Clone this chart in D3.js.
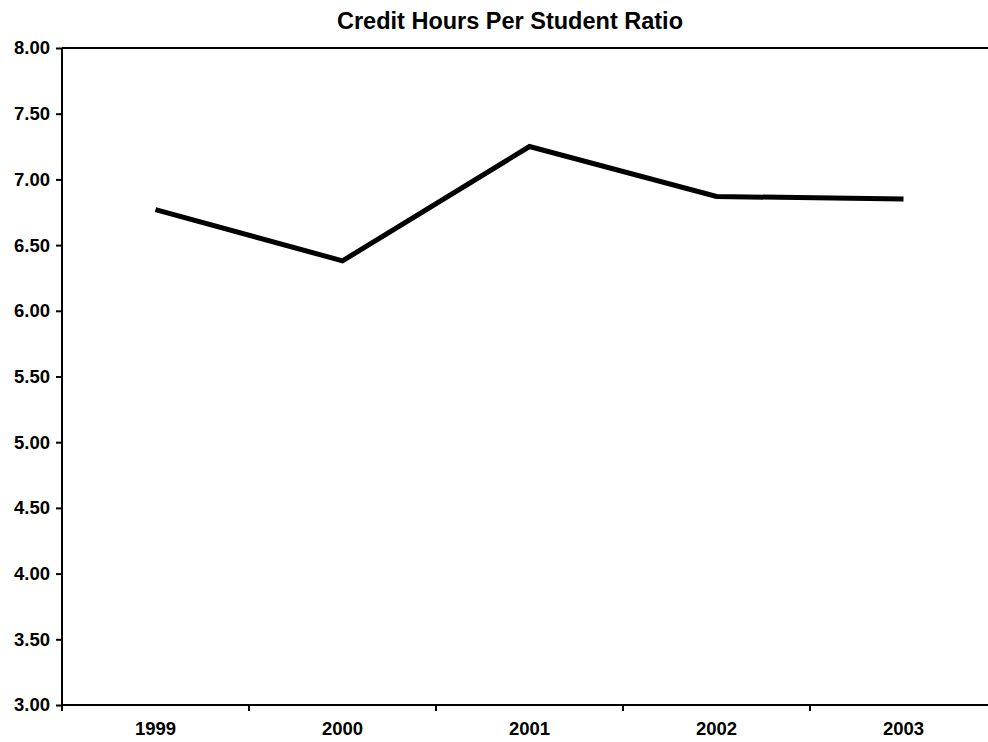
<!DOCTYPE html>
<html>
<head>
<meta charset="utf-8">
<script src="https://cdn.jsdelivr.net/npm/d3@7"></script>
<style>
  body { margin: 0; background: #fff; }
  svg text { font-family: "Liberation Sans", Arial, sans-serif; font-weight: bold; fill: #000; }
</style>
</head>
<body>
<svg id="chart" width="988" height="742"></svg>
<script>
// data
var years = ["1999", "2000", "2001", "2002", "2003"];
var ratio = [6.77, 6.38, 7.25, 6.87, 6.85];
var yTicks = [3, 3.5, 4, 4.5, 5, 5.5, 6, 6.5, 7, 7.5, 8];

var svg = d3.select("#chart");
var margin = {top: 48, right: -9, bottom: 37, left: 62};
var width = 988 - margin.left - margin.right,
    height = 742 - margin.top - margin.bottom;

var g = svg.append("g")
    .attr("transform", "translate(" + margin.left + "," + margin.top + ")");

var x = d3.scaleBand().domain(years).range([0, width]);
var y = d3.scaleLinear().domain([3, 8]).range([height, 0]);

// title
svg.append("text")
    .attr("x", 510)
    .attr("y", 29)
    .attr("text-anchor", "middle")
    .style("font-size", "23.5px")
    .text("Credit Hours Per Student Ratio");

// top border
g.append("line")
    .attr("x1", 0).attr("x2", width)
    .attr("y1", 0).attr("y2", 0)
    .attr("stroke", "#000").attr("stroke-width", 2);

// y axis
var yAxis = g.append("g")
    .call(d3.axisLeft(y).tickValues(yTicks).tickFormat(d3.format(".2f")).tickSize(6).tickPadding(6));
yAxis.selectAll("text").style("font-size", "18.5px");
yAxis.selectAll("line, path").attr("stroke", "#000").attr("stroke-width", 2);
yAxis.select(".domain").attr("d", "M0,0V" + height);

// x axis, ticks between categories
var xAxis = g.append("g")
    .attr("transform", "translate(0," + height + ")")
    .call(d3.axisBottom(x).tickSize(0).tickPadding(17));
xAxis.selectAll("text").style("font-size", "18.5px");
xAxis.select(".domain").attr("d", "M0,0H" + width).attr("stroke", "#000").attr("stroke-width", 2);
xAxis.selectAll(".sep")
    .data(years)
    .enter().append("line")
    .attr("class", "sep")
    .attr("x1", function(d) { return x(d); })
    .attr("x2", function(d) { return x(d); })
    .attr("y1", 0).attr("y2", 6)
    .attr("stroke", "#000").attr("stroke-width", 2);

// line
var line = d3.line()
    .x(function(d, i) { return x(years[i]) + x.bandwidth() / 2; })
    .y(function(d) { return y(d); });

g.append("path")
    .datum(ratio)
    .attr("d", line)
    .attr("fill", "none")
    .attr("stroke", "#000")
    .attr("stroke-width", 5)
    .attr("stroke-linejoin", "miter");
</script>
</body>
</html>
